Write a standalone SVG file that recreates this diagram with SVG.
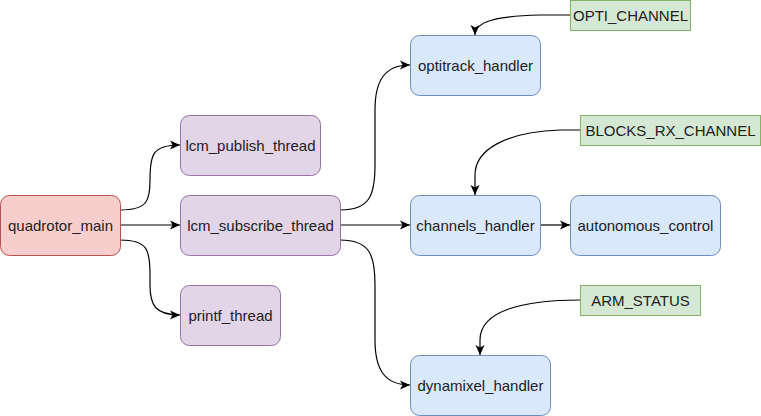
<svg xmlns="http://www.w3.org/2000/svg" width="761" height="416" viewBox="0 0 761 416">
<defs>
<marker id="arr" markerUnits="userSpaceOnUse" markerWidth="11" markerHeight="10" viewBox="0 0 11 10" refX="10" refY="5" orient="auto">
<path d="M0,0.5 L10,5 L0,9.5 L2.5,5 Z" fill="#000"/>
</marker>
<style>
rect{stroke-width:1}
.red{fill:#f8cecc;stroke:#b85450}
.pur{fill:#e1d5e7;stroke:#9673a6}
.blu{fill:#dae8fc;stroke:#6c8ebf}
.grn{fill:#d5e8d4;stroke:#82b366}
text{font-family:"Liberation Sans",Arial,sans-serif;font-size:15px;fill:#222;text-anchor:middle;dominant-baseline:central}
.e{fill:none;stroke:#000;stroke-width:1.2;marker-end:url(#arr)}
</style>
</defs>
<rect width="761" height="416" fill="#fff"/>
<g id="connectors">
<path class="e" d="M120,210 C148,210 150,200 150,180 C150,155 152,145 180,145"/>
<path class="e" d="M120,225 L180,225"/>
<path class="e" d="M120,240 C148,240 150,250 150,275 L150,285 C150,305 155,315 180,315"/>
<path class="e" d="M340,210 C370,210 375,195 375,165 L375,110 C375,80 385,65 410,65"/>
<path class="e" d="M340,225 L410,225"/>
<path class="e" d="M340,240 C370,240 375,255 375,285 L375,340 C375,370 385,385 410,385"/>
<path class="e" d="M540,225 L570,225"/>
<path class="e" d="M570,15 L540,15 C495,16 475,22 475,35"/>
<path class="e" d="M580,130 L560,130 C505,132 475,150 475,175 L475,195"/>
<path class="e" d="M580,300 C525,300 480,310 480,340 L480,355"/>
</g>
<g id="quadrotor_main"><rect class="red" x="0.5" y="195.5" width="120" height="60" rx="9"/><text x="60.5" y="225.5">quadrotor_main</text></g>
<g id="lcm_publish_thread"><rect class="pur" x="180.5" y="115.5" width="140" height="60" rx="9"/><text x="250.5" y="145.5">lcm_publish_thread</text></g>
<g id="lcm_subscribe_thread"><rect class="pur" x="180.5" y="195.5" width="160" height="60" rx="9"/><text x="260.5" y="225.5">lcm_subscribe_thread</text></g>
<g id="printf_thread"><rect class="pur" x="180.5" y="285.5" width="100" height="60" rx="9"/><text x="230.5" y="315.5">printf_thread</text></g>
<g id="optitrack_handler"><rect class="blu" x="410.5" y="35.5" width="130" height="60" rx="9"/><text x="475.5" y="65.5">optitrack_handler</text></g>
<g id="channels_handler"><rect class="blu" x="410.5" y="195.5" width="130" height="60" rx="9"/><text x="475.5" y="225.5">channels_handler</text></g>
<g id="autonomous_control"><rect class="blu" x="570.5" y="195.5" width="150" height="60" rx="9"/><text x="645.5" y="225.5">autonomous_control</text></g>
<g id="dynamixel_handler"><rect class="blu" x="410.5" y="355.5" width="140" height="60" rx="9"/><text x="480.5" y="385.5">dynamixel_handler</text></g>
<g id="OPTI_CHANNEL"><rect class="grn" x="570.5" y="0.5" width="120" height="30"/><text x="630.5" y="15.5">OPTI_CHANNEL</text></g>
<g id="BLOCKS_RX_CHANNEL"><rect class="grn" x="580.5" y="115.5" width="180" height="30"/><text x="670.5" y="130.5">BLOCKS_RX_CHANNEL</text></g>
<g id="ARM_STATUS"><rect class="grn" x="580.5" y="285.5" width="120" height="30"/><text x="640.5" y="300.5">ARM_STATUS</text></g>
</svg>
